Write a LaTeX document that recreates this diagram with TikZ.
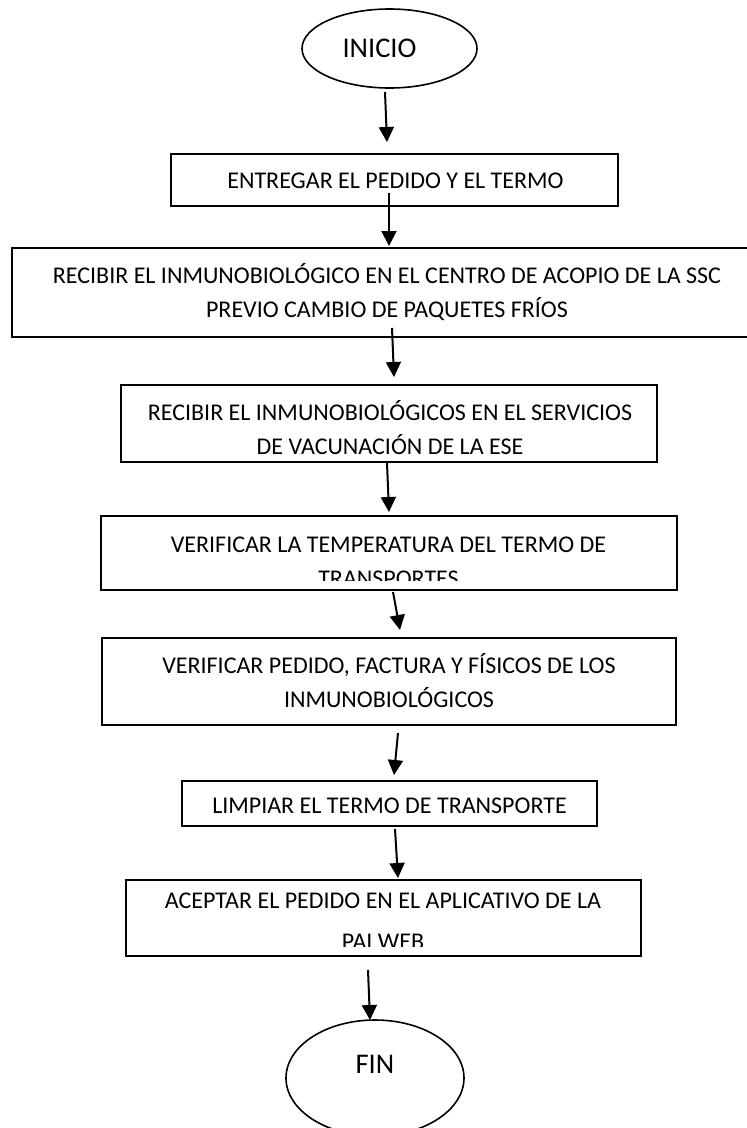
\documentclass[tikz,border=0pt]{standalone}
\usepackage{fontspec}
\setmainfont{Carlito}
\usetikzlibrary{shapes.geometric,arrows.meta}
\tikzset{
  boxnode/.style={draw=black, line width=2pt, rectangle, inner sep=0pt},
  ovalnode/.style={draw=black, line width=1.6pt, ellipse, inner sep=0pt},
  txt/.style={inner sep=0pt, anchor=base, font=\fontsize{24}{28}\selectfont},
  bigtxt/.style={inner sep=0pt, anchor=base, font=\fontsize{28.5}{34}\selectfont},
  arr/.style={line width=2pt, -{Triangle[length=15pt,width=15pt]}},
}
\begin{document}
\begin{tikzpicture}[x=1pt,y=-1pt]
\useasboundingbox (0,0) rectangle (747,1128);
\clip (0,0) rectangle (747,1128);
\fill[white] (0,0) rectangle (747,1128);

% INICIO
\node[ovalnode, minimum width=175pt, minimum height=79pt] (inicio) at (389.5,48.5) {};
\node[bigtxt] (inicio-t) at (379.5,57) {INICIO};

% Box 1
\node[boxnode, minimum width=447pt, minimum height=52pt] (b1) at (394.5,180) {};
\node[txt] (b1-t) at (395.5,188) {ENTREGAR EL PEDIDO Y EL TERMO};

% Box 2
\node[boxnode, minimum width=750pt, minimum height=89pt] (b2) at (387,292.5) {};
\node[txt] (b2-t1) at (387,283) {RECIBIR EL INMUNOBIOLÓGICO EN EL CENTRO DE ACOPIO DE LA SSC};
\node[txt] (b2-t2) at (387,317) {PREVIO CAMBIO DE PAQUETES FRÍOS};

% Box 3
\node[boxnode, minimum width=536pt, minimum height=77pt] (b3) at (389,423.5) {};
\node[txt] (b3-t1) at (390,420) {RECIBIR EL INMUNOBIOLÓGICOS EN EL SERVICIOS};
\node[txt] (b3-t2) at (390,454) {DE VACUNACIÓN DE LA ESE};

% Box 4
\node[boxnode, minimum width=576pt, minimum height=74pt] (b4) at (389,553) {};
\node[txt] (b4-t1) at (388.5,552) {VERIFICAR LA TEMPERATURA DEL TERMO DE};
\begin{scope}
  \clip (101,516) rectangle (677,580);
  \node[txt] (b4-t2) at (388.5,586) {TRANSPORTES};
\end{scope}

% Box 5
\node[boxnode, minimum width=574pt, minimum height=87pt] (b5) at (389,681.5) {};
\node[txt] (b5-t1) at (389,673) {VERIFICAR PEDIDO, FACTURA Y FÍSICOS DE LOS};
\node[txt] (b5-t2) at (389,707) {INMUNOBIOLÓGICOS};

% Box 6
\node[boxnode, minimum width=415pt, minimum height=45pt] (b6) at (389.5,803.5) {};
\node[txt] (b6-t) at (389.5,813) {LIMPIAR EL TERMO DE TRANSPORTE};

% Box 7
\node[boxnode, minimum width=515pt, minimum height=76pt] (b7) at (383.5,918) {};
\node[txt] (b7-t1) at (383,908) {ACEPTAR EL PEDIDO EN EL APLICATIVO DE LA};
\begin{scope}
  \clip (126,880) rectangle (641,946);
  \node[txt] (b7-t2) at (383,949) {PAI WEB};
\end{scope}

% FIN
\node[ovalnode, minimum width=178pt, minimum height=116pt] (fin) at (375,1078) {};
\node[bigtxt] (fin-t) at (375,1073) {FIN};

% arrow end points
\coordinate (a1s) at (385,92);   \coordinate (a1e) at (387,142);
\coordinate (a2s) at (389,193);  \coordinate (a2e) at (389,246);
\coordinate (a3s) at (392,328);  \coordinate (a3e) at (394,377);
\coordinate (a4s) at (387,463);  \coordinate (a4e) at (389,512);
\coordinate (a5s) at (393,592);  \coordinate (a5e) at (400,630);
\coordinate (a6s) at (398,733);  \coordinate (a6e) at (394,775);
\coordinate (a7s) at (395,829);  \coordinate (a7e) at (398,878);
\coordinate (a8s) at (368,970);  \coordinate (a8e) at (370,1020);

\draw[arr] (a1s) -- (a1e);
\draw[arr] (a2s) -- (a2e);
\draw[arr] (a3s) -- (a3e);
\draw[arr] (a4s) -- (a4e);
\draw[arr] (a5s) -- (a5e);
\draw[arr] (a6s) -- (a6e);
\draw[arr] (a7s) -- (a7e);
\draw[arr] (a8s) -- (a8e);
\end{tikzpicture}
\end{document}
